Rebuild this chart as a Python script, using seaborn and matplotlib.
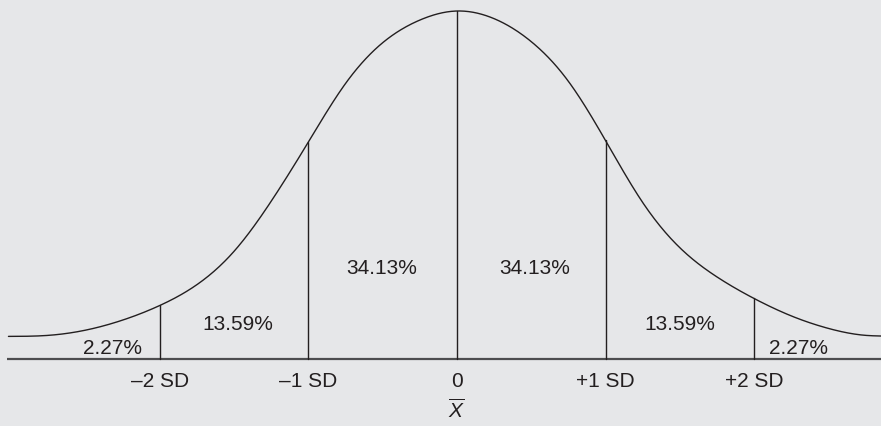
import numpy as np
import pandas as pd
import matplotlib
matplotlib.use("Agg")
import matplotlib.pyplot as plt
import seaborn as sns

# Bell curve: position in standard deviations and height as a percent of the peak
curve_z = [-3.02, -2.75, -2.5, -2.25, -2.0, -1.75, -1.5, -1.25, -1.0, -0.75,
           -0.5, -0.25, 0.0, 0.25, 0.5, 0.75, 1.0, 1.25, 1.5, 1.75,
           2.0, 2.25, 2.5, 2.75, 2.86]
curve_h = [6.5, 6.8, 8.3, 11.2, 15.4, 21.4, 31.0, 45.4, 62.4, 79.2,
           90.9, 97.4, 100.0, 97.8, 91.2, 79.8, 62.8, 45.0, 32.0, 23.6,
           17.4, 12.4, 8.8, 6.8, 6.6]

# Standard-deviation markers and their axis labels
sd_marks = [-2, -1, 0, 1, 2]
sd_labels = ["–2 SD", "–1 SD", "0", "+1 SD", "+2 SD"]

# Share of the distribution in each band, left to right
band_labels = ["2.27%", "13.59%", "34.13%", "34.13%", "13.59%", "2.27%"]
band_label_x = [-2.32, -1.475, -0.51, 0.52, 1.50, 2.30]
band_label_y = [3.45, 10.3, 26.4, 26.4, 10.1, 3.45]

bg = "#e6e7e9"
ink = "#231f20"

sns.set_theme(style="white", rc={"axes.facecolor": bg, "figure.facecolor": bg})
plt.rcParams["font.family"] = ["Liberation Sans", "DejaVu Sans"]
plt.rcParams["mathtext.fontset"] = "custom"
plt.rcParams["mathtext.it"] = "Liberation Sans:italic"
plt.rcParams["mathtext.rm"] = "Liberation Sans"


def smooth_line(xs, ys, xq):
    """Natural cubic spline through the given points."""
    xs = np.asarray(xs, float)
    ys = np.asarray(ys, float)
    n = len(xs)
    h = np.diff(xs)
    A = np.zeros((n, n))
    b = np.zeros(n)
    A[0, 0] = A[-1, -1] = 1.0
    for k in range(1, n - 1):
        A[k, k - 1] = h[k - 1]
        A[k, k] = 2 * (h[k - 1] + h[k])
        A[k, k + 1] = h[k]
        b[k] = 6 * ((ys[k + 1] - ys[k]) / h[k] - (ys[k] - ys[k - 1]) / h[k - 1])
    M = np.linalg.solve(A, b)
    xq = np.asarray(xq, float)
    i = np.clip(np.searchsorted(xs, xq) - 1, 0, n - 2)
    a = xs[i + 1] - xq
    c = xq - xs[i]
    hi = h[i]
    return (M[i] * a ** 3 / (6 * hi) + M[i + 1] * c ** 3 / (6 * hi)
            + (ys[i] / hi - M[i] * hi / 6) * a + (ys[i + 1] / hi - M[i + 1] * hi / 6) * c)


zz = np.linspace(curve_z[0], curve_z[-1], 800)
curve = pd.DataFrame({"z": zz, "height": smooth_line(curve_z, curve_h, zz)})

fig = plt.figure(figsize=(8.81, 4.27), dpi=100)
ax = fig.add_axes([0, 0, 1, 1])
ax.set_xlim(-3.077, 2.855)
ax.set_ylim(-19.25, 103.45)

sns.lineplot(data=curve, x="z", y="height", ax=ax, color=ink, linewidth=1.0,
             sort=True, estimator=None)

# Axis line
ax.plot([-3.03, 2.86], [0, 0], color="#4d4d4f", linewidth=1.6, solid_capstyle="butt")

# Vertical dividers from the axis up to the curve
for m in sd_marks:
    top = float(smooth_line(curve_z, curve_h, [m])[0])
    ax.plot([m, m], [0, top], color=ink, linewidth=1.0)

for lbl, x, y in zip(band_labels, band_label_x, band_label_y):
    ax.text(x, y, lbl, ha="center", va="center", fontsize=15, color=ink)

for m, lbl in zip(sd_marks, sd_labels):
    ax.text(m, -6.3, lbl, ha="center", va="center", fontsize=15, color=ink)

ax.text(0, -14.5, r"$\overline{X}$", ha="center", va="center", fontsize=15, color=ink)

ax.set_axis_off()
fig.savefig("out.png", dpi=100, facecolor=bg)
